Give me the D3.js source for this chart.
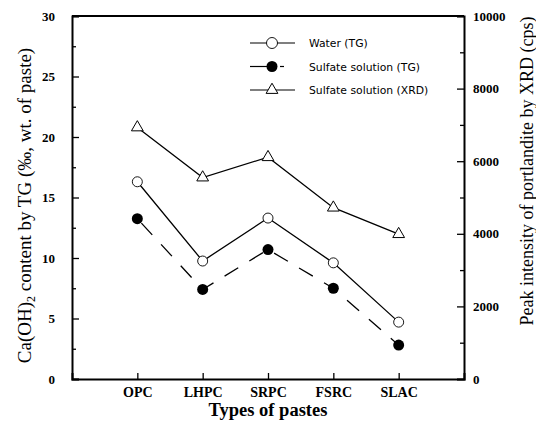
<!DOCTYPE html>
<html>
<head>
<meta charset="utf-8">
<script src="https://cdn.jsdelivr.net/npm/d3@7"></script>
<style>
  body { margin: 0; background: #fff; }
  svg { display: block; }
</style>
</head>
<body>
<div id="chart"></div>
<script>
const categories = ['OPC', 'LHPC', 'SRPC', 'FSRC', 'SLAC'];
const waterTG = [16.3, 9.75, 13.3, 9.6, 4.7];
const sulfateTG = [13.25, 7.4, 10.7, 7.5, 2.8];
const sulfateXRD = [6930, 5550, 6110, 4720, 3990];
const leftTicks = [0, 5, 10, 15, 20, 25, 30];
const rightTicks = [0, 2000, 4000, 6000, 8000, 10000];

const W = 536, H = 423;
const margin = { top: 16, right: 72, bottom: 44, left: 72 };
const width = W - margin.left - margin.right;
const height = H - margin.top - margin.bottom;

const svg = d3.select('#chart').append('svg')
  .attr('width', W)
  .attr('height', H);

const g = svg.append('g')
  .attr('transform', 'translate(' + margin.left + ',' + margin.top + ')');

const x = d3.scaleLinear().domain([0, categories.length + 1]).range([0, width]);
const yL = d3.scaleLinear().domain([0, 30]).range([height, 0]);
const yR = d3.scaleLinear().domain([0, 10000]).range([height, 0]);

const serif = '"Liberation Serif", "Times New Roman", serif';
const sans = '"DejaVu Sans", Verdana, sans-serif';

// minor ticks
g.append('g')
  .call(d3.axisLeft(yL).tickValues(d3.range(2.5, 30, 5)).tickSize(-4).tickFormat(''))
  .call(a => a.select('.domain').remove());
g.append('g')
  .attr('transform', 'translate(' + width + ',0)')
  .call(d3.axisRight(yR).tickValues(d3.range(1000, 10000, 2000)).tickSize(-4).tickFormat(''))
  .call(a => a.select('.domain').remove());

// left axis
const left = g.append('g')
  .call(d3.axisLeft(yL).tickValues(leftTicks).tickSize(-7).tickPadding(17));
// right axis
const right = g.append('g')
  .attr('transform', 'translate(' + width + ',0)')
  .call(d3.axisRight(yR).tickValues(rightTicks).tickSize(-7).tickPadding(9).tickFormat(d3.format('d')));
// bottom axis
const bottom = g.append('g')
  .attr('transform', 'translate(0,' + height + ')')
  .call(d3.axisBottom(x).tickValues(d3.range(1, categories.length + 1))
    .tickSize(-6).tickPadding(8).tickFormat(d => categories[d - 1]));
// top line
g.append('line')
  .attr('x1', 0).attr('x2', width).attr('y1', 0).attr('y2', 0)
  .attr('stroke', '#000').attr('stroke-width', 2);

[left, right, bottom].forEach(a => {
  a.attr('font-family', serif);
  a.select('.domain').attr('stroke-width', 2);
  a.selectAll('text')
    .attr('font-family', serif)
    .attr('font-weight', 'bold')
    .attr('font-size', 13)
    .attr('fill', '#000');
});
bottom.selectAll('text').attr('font-size', 14);
g.selectAll('.tick line').attr('stroke-width', 1.3);

const line = d3.line().x((d, i) => x(i + 1));

// series lines
g.append('path')
  .datum(sulfateXRD)
  .attr('d', line.y(d => yR(d)))
  .attr('fill', 'none').attr('stroke', '#000').attr('stroke-width', 1.3);
g.append('path')
  .datum(waterTG)
  .attr('d', line.y(d => yL(d)))
  .attr('fill', 'none').attr('stroke', '#000').attr('stroke-width', 1.3);
g.append('path')
  .datum(sulfateTG)
  .attr('d', line.y(d => yL(d)))
  .attr('fill', 'none').attr('stroke', '#000').attr('stroke-width', 1.3)
  .attr('stroke-dasharray', '16,13').attr('stroke-dashoffset', -6);

const tri = d3.symbol().type(d3.symbolTriangle).size(60);

// markers
g.selectAll('.tri').data(sulfateXRD).enter().append('path')
  .attr('class', 'tri')
  .attr('d', tri)
  .attr('transform', (d, i) => 'translate(' + x(i + 1) + ',' + yR(d) + ')')
  .attr('fill', '#fff').attr('stroke', '#000').attr('stroke-width', 1);
g.selectAll('.open').data(waterTG).enter().append('circle')
  .attr('class', 'open')
  .attr('cx', (d, i) => x(i + 1)).attr('cy', d => yL(d)).attr('r', 5)
  .attr('fill', '#fff').attr('stroke', '#000').attr('stroke-width', 0.9);
g.selectAll('.filled').data(sulfateTG).enter().append('circle')
  .attr('class', 'filled')
  .attr('cx', (d, i) => x(i + 1)).attr('cy', d => yL(d)).attr('r', 5.5)
  .attr('fill', '#000');

// legend
const legendItems = [
  { label: 'Water (TG)', type: 'open' },
  { label: 'Sulfate solution (TG)', type: 'filled' },
  { label: 'Sulfate solution (XRD)', type: 'tri' }
];
const legend = svg.append('g').attr('transform', 'translate(250,43)');
legendItems.forEach((it, i) => {
  const row = legend.append('g').attr('transform', 'translate(0,' + i * 23.5 + ')');
  if (it.type === 'filled') {
    row.append('line').attr('x1', 0).attr('x2', 18).attr('stroke', '#000').attr('stroke-width', 1.2);
    row.append('line').attr('x1', 30).attr('x2', 34).attr('stroke', '#000').attr('stroke-width', 1.2);
    row.append('circle').attr('cx', 22).attr('r', 5.5).attr('fill', '#000');
  } else {
    row.append('line').attr('x1', 0).attr('x2', 45).attr('stroke', '#000').attr('stroke-width', 1.2);
    if (it.type === 'open') {
      row.append('circle').attr('cx', 22).attr('r', 5.5)
        .attr('fill', '#fff').attr('stroke', '#000').attr('stroke-width', 0.9);
    } else {
      row.append('path').attr('d', tri).attr('transform', 'translate(22,0)')
        .attr('fill', '#fff').attr('stroke', '#000').attr('stroke-width', 1);
    }
  }
  row.append('text')
    .attr('x', 59).attr('y', 4)
    .attr('font-family', sans).attr('font-size', 10.8)
    .text(it.label);
});

// axis titles
const lt = svg.append('text')
  .attr('transform', 'translate(31,' + (margin.top + height / 2 + 8) + ') rotate(-90)')
  .attr('text-anchor', 'middle')
  .attr('font-family', serif).attr('font-size', 19);
lt.append('tspan').text('Ca(OH)');
lt.append('tspan').attr('font-size', 12).attr('dy', 4).text('2');
lt.append('tspan').attr('dy', -4).text(' content by TG (‰, wt. of paste)');

svg.append('text')
  .attr('transform', 'translate(533,171) rotate(-90)')
  .attr('text-anchor', 'middle')
  .attr('font-family', serif).attr('font-size', 18)
  .text('Peak intensity of portlandite by XRD (cps)');

svg.append('text')
  .attr('x', x(3) + margin.left).attr('y', 416)
  .attr('text-anchor', 'middle')
  .attr('font-family', serif).attr('font-weight', 'bold').attr('font-size', 18.5)
  .text('Types of pastes');
</script>
</body>
</html>
